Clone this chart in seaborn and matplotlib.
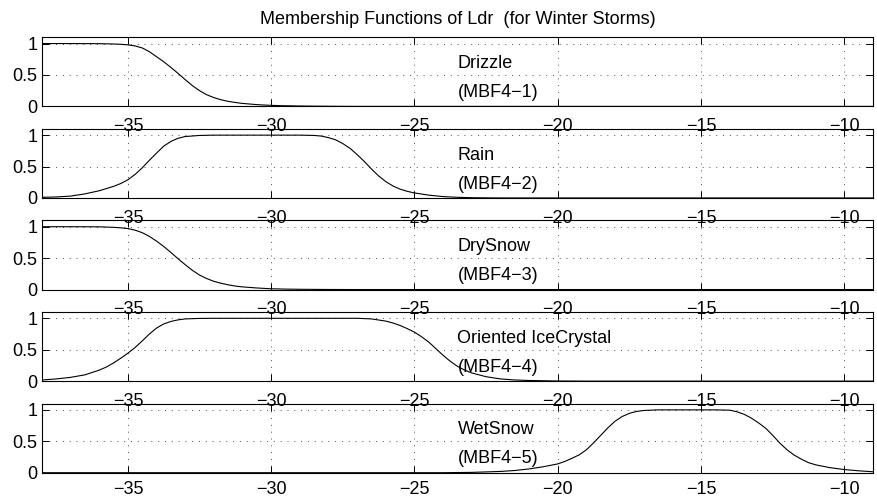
import matplotlib
matplotlib.use("Agg")
import numpy as np
import pandas as pd
import seaborn as sns
import matplotlib.pyplot as plt

# membership values (Ldr in dB)
drizzle_x = [-38.0, -37.0, -36.0, -35.5, -35.25, -35.0, -34.75, -34.5, -34.25, -34.0,
             -33.75, -33.5, -33.25, -33.0, -32.75, -32.5, -32.25, -32.0, -31.75, -31.5,
             -31.25, -31.0, -30.5, -30.0, -29.5, -29.0, -28.0, -27.0, -9.0]
drizzle_y = [1.0, 1.0, 0.998, 0.993, 0.988, 0.98, 0.962, 0.93, 0.87, 0.79,
             0.71, 0.62, 0.525, 0.425, 0.33, 0.25, 0.185, 0.14, 0.105, 0.08,
             0.062, 0.047, 0.028, 0.016, 0.01, 0.006, 0.002, 0.0, 0.0]

rain_x = [-38.0, -37.5, -37.0, -36.5, -36.0, -35.75, -35.5, -35.25, -35.0, -34.75,
          -34.5, -34.25, -34.0, -33.75, -33.5, -33.25, -33.0, -32.5, -32.0, -29.0,
          -28.5, -28.25, -28.0, -27.75, -27.5, -27.25, -27.0, -26.75, -26.5, -26.25,
          -26.0, -25.75, -25.5, -25.25, -25.0, -24.5, -24.0, -23.5, -23.0, -22.0, -9.0]
rain_y = [0.01, 0.016, 0.03, 0.065, 0.115, 0.15, 0.185, 0.23, 0.29, 0.375,
          0.48, 0.6, 0.715, 0.825, 0.9, 0.95, 0.978, 0.995, 1.0, 1.0,
          0.995, 0.985, 0.96, 0.925, 0.865, 0.79, 0.69, 0.58, 0.46, 0.35,
          0.26, 0.19, 0.14, 0.105, 0.08, 0.045, 0.022, 0.01, 0.004, 0.0, 0.0]

drysnow_x = [-38.0, -37.0, -36.0, -35.5, -35.25, -35.0, -34.75, -34.5, -34.25, -34.0,
             -33.75, -33.5, -33.25, -33.0, -32.75, -32.5, -32.25, -32.0, -31.75, -31.5,
             -31.25, -31.0, -30.5, -30.0, -29.5, -29.0, -28.0, -27.0, -9.0]
drysnow_y = [1.0, 1.0, 0.998, 0.99, 0.982, 0.97, 0.945, 0.905, 0.845, 0.77,
             0.685, 0.59, 0.49, 0.395, 0.305, 0.23, 0.175, 0.13, 0.1, 0.075,
             0.055, 0.042, 0.025, 0.012, 0.007, 0.004, 0.001, 0.0, 0.0]

ice_x = [-38.0, -37.5, -37.0, -36.5, -36.0, -35.75, -35.5, -35.25, -35.0, -34.75,
         -34.5, -34.25, -34.0, -33.75, -33.5, -33.25, -33.0, -32.5, -32.0, -27.0,
         -26.5, -26.0, -25.75, -25.5, -25.25, -25.0, -24.75, -24.5, -24.25, -24.0,
         -23.75, -23.5, -23.25, -23.0, -22.5, -22.0, -21.5, -21.0, -20.0, -19.0, -9.0]
ice_y = [0.018, 0.035, 0.06, 0.1, 0.175, 0.225, 0.29, 0.365, 0.445, 0.535,
         0.64, 0.75, 0.845, 0.91, 0.95, 0.975, 0.99, 0.998, 1.0, 1.0,
         0.99, 0.955, 0.925, 0.885, 0.835, 0.78, 0.705, 0.62, 0.515, 0.41,
         0.315, 0.235, 0.175, 0.13, 0.07, 0.035, 0.018, 0.01, 0.002, 0.0, 0.0]

wetsnow_x = [-38.0, -24.0, -23.0, -22.0, -21.5, -21.0, -20.5, -20.0, -19.75, -19.5,
             -19.25, -19.0, -18.75, -18.5, -18.25, -18.0, -17.75, -17.5, -17.25, -17.0,
             -16.5, -14.5, -14.0, -13.75, -13.5, -13.25, -13.0, -12.75, -12.5, -12.25,
             -12.0, -11.75, -11.5, -11.25, -11.0, -10.5, -10.0, -9.5, -9.0]
wetsnow_y = [0.0, 0.0, 0.005, 0.02, 0.035, 0.06, 0.095, 0.14, 0.18, 0.23,
             0.285, 0.365, 0.475, 0.595, 0.715, 0.82, 0.895, 0.945, 0.975, 0.99,
             1.0, 1.0, 0.995, 0.97, 0.93, 0.87, 0.795, 0.71, 0.595, 0.47,
             0.365, 0.28, 0.215, 0.16, 0.125, 0.08, 0.05, 0.03, 0.015]

names = ["Drizzle", "Rain", "DrySnow", "Oriented IceCrystal", "WetSnow"]
codes = ["(MBF4\u22121)", "(MBF4\u22122)", "(MBF4\u22123)", "(MBF4\u22124)", "(MBF4\u22125)"]
xs = [drizzle_x, rain_x, drysnow_x, ice_x, wetsnow_x]
ys = [drizzle_y, rain_y, drysnow_y, ice_y, wetsnow_y]

sns.set_style("ticks")
plt.rcParams['font.family'] = ['Liberation Sans', 'DejaVu Sans']
plt.rcParams['text.color'] = 'k'
plt.rcParams['xtick.color'] = 'k'
plt.rcParams['ytick.color'] = 'k'
plt.rcParams['axes.labelcolor'] = 'k'
fs = 13

fig, axes = plt.subplots(5, 1, figsize=(8.78, 4.97), dpi=100)
fig.subplots_adjust(left=0.0478, right=0.9943, top=0.925, bottom=0.0489, hspace=0.325)

for i, ax in enumerate(axes):
    df = pd.DataFrame({'Ldr': xs[i], 'mu': ys[i]})
    sns.lineplot(data=df, x='Ldr', y='mu', ax=ax, color='k', linewidth=0.8)
    ax.set_xlim(-38, -9)
    ax.set_ylim(0, 1.1)
    ax.set_xticks(list(range(-35, -9, 5)))
    ax.set_yticks([0, 0.5, 1])
    ax.set_yticklabels(['0', '0.5', '1'])
    ax.set_xlabel('')
    ax.set_ylabel('')
    ax.grid(True, color='0.3', linestyle=(0, (1, 6)), linewidth=0.7)
    ax.tick_params(direction='in', top=True, right=True, length=5, width=0.7,
                   labelsize=fs, colors='k')
    ax.tick_params(axis='x', pad=8.5 if i < 4 else 6)
    ax.tick_params(axis='y', pad=3.2)
    for s in ax.spines.values():
        s.set_linewidth(0.8)
        s.set_color('k')
    ax.patch.set_visible(False)
    ax.text(-23.5, 0.61, names[i], fontsize=fs, color='k')
    ax.text(-23.5, 0.15, codes[i], fontsize=fs, color='k')

axes[0].set_title("Membership Functions of Ldr  (for Winter Storms)", fontsize=fs, pad=9.5, color='k')

fig.savefig("out.png", dpi=100)
